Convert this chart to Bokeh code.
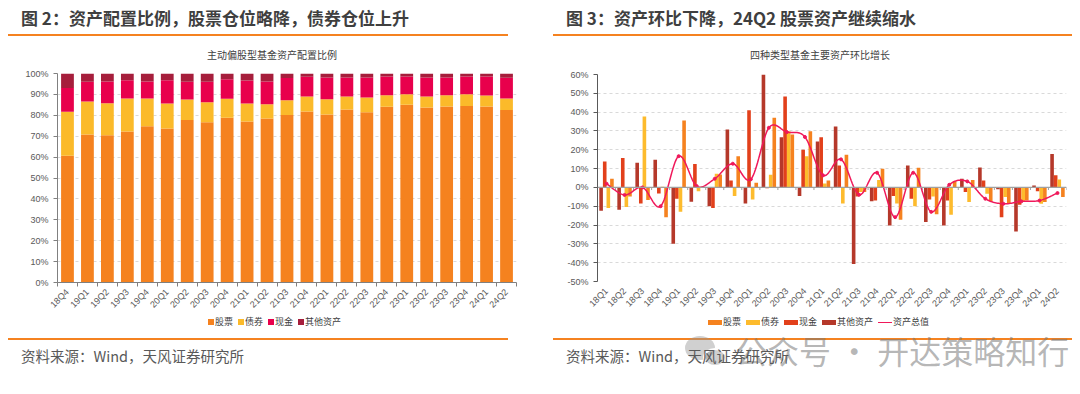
import numpy as np
from bokeh.plotting import figure
from bokeh.models import (ColumnDataSource, FixedTicker, Span, Div, Range1d, Spacer)
from bokeh.layouts import row, column
from bokeh.embed import file_html
from bokeh.resources import INLINE

CJK = "Noto Sans CJK SC"
LAT = "Liberation Sans"

# ---------------- Data: left chart (asset allocation, %) ----------------
alloc_quarters = ["18Q4", "19Q1", "19Q2", "19Q3", "19Q4", "20Q1", "20Q2", "20Q3", "20Q4",
                  "21Q1", "21Q2", "21Q3", "21Q4", "22Q1", "22Q2", "22Q3", "22Q4",
                  "23Q1", "23Q2", "23Q3", "23Q4", "24Q1", "24Q2"]
alloc_stock = [60.6, 70.8, 70.5, 72.2, 74.8, 73.7, 77.7, 76.7, 78.8, 77.0, 78.5, 80.1, 81.8,
               80.4, 82.8, 81.5, 84.1, 85.0, 83.7, 84.2, 84.5, 84.2, 82.5]
alloc_bond = [21.1, 15.8, 15.3, 15.8, 13.2, 11.9, 9.9, 9.6, 9.1, 8.6, 6.8, 7.1, 7.2,
              7.3, 6.2, 7.0, 5.5, 5.1, 5.3, 5.4, 5.6, 5.3, 5.5]
alloc_cash = [11.4, 9.4, 10.4, 8.8, 8.2, 11.2, 8.4, 9.7, 9.4, 11.1, 10.9, 10.6, 9.4,
              10.4, 9.1, 9.6, 9.0, 8.5, 9.1, 8.5, 8.5, 9.1, 10.0]
alloc_other = [6.9, 4.0, 3.8, 3.2, 3.8, 3.2, 4.0, 4.0, 2.7, 3.3, 3.8, 2.2, 1.6,
               1.9, 1.9, 1.9, 1.4, 1.4, 1.9, 1.9, 1.4, 1.4, 2.0]
alloc_names = ["股票", "债券", "现金", "其他资产"]
alloc_colors = ["#F5821F", "#FBBA2A", "#E8004C", "#A61E3C"]

# ---------------- Data: right chart (QoQ growth, %) ----------------
growth_quarters = ["18Q1", "18Q2", "18Q3", "18Q4", "19Q1", "19Q2", "19Q3", "19Q4",
                   "20Q1", "20Q2", "20Q3", "20Q4", "21Q1", "21Q2", "21Q3", "21Q4",
                   "22Q1", "22Q2", "22Q3", "22Q4", "23Q1", "23Q2", "23Q3", "23Q4",
                   "24Q1", "24Q2"]
g_stock = [4.6, -4.8, -6.7, -15.8, 35.6, 0.3, 6.8, 16.5, 2.5, 37.0, 28.1, 29.9, 3.7,
           17.3, -2.5, 9.9, -17.2, 10.4, -14.2, 3.4, 4.0, -7.4, -8.7, -6.9, -7.8, -5.1]
g_bond = [-11.0, -10.4, 37.7, 0.3, -13.0, -2.0, 7.3, -4.6, -6.4, 6.7, 29.9, 16.6, 2.1,
          -8.5, -2.5, 4.0, -8.5, -10.0, -4.8, -14.5, -7.8, -3.4, -5.1, -7.4, -8.7, 4.2]
g_cash = [13.8, 15.6, -8.5, -3.2, -6.0, 12.4, -11.0, 3.7, 41.0, -0.5, 48.3, 20.0, 26.7,
          11.7, -4.8, -6.9, -4.6, -6.0, -6.4, -6.9, -2.5, 3.7, -15.8, -9.2, -2.1, 6.4]
g_other = [-12.4, -11.9, 13.1, 14.7, -30.0, -7.6, -10.0, 30.8, -8.5, 60.0, 26.7, -4.6, 24.4,
           32.4, -40.7, -7.4, -20.2, 11.7, -18.4, -20.2, 4.6, 10.6, -1.0, -23.4, 1.0, 17.7]
g_total = [2.0, -4.0, 0.0, -10.0, 16.6, 0.7, 4.6, 12.6, 4.3, 31.7, 29.4, 26.8, 6.4,
           14.9, -3.9, 7.8, -15.8, 7.8, -13.0, 1.4, 3.2, -6.0, -8.7, -7.4, -7.0, -3.0]
growth_names = ["股票", "债券", "现金", "其他资产", "资产总值"]
growth_colors = ["#F5821F", "#FDBB2D", "#E2401B", "#B5382A", "#F0185A"]

ORANGE_LINE = "#F58220"
TXT = "#404040"
AX = "#595959"


def header(title, sub, sub_left, width):
    html = (
        f'<div style="position:relative;width:{width}px;height:58px;font-family:\'{CJK}\';">'
        f'<div style="position:absolute;left:13px;top:0px;line-height:20px;font-size:17px;'
        f'font-weight:bold;color:#3F3F3F;white-space:nowrap;">{title}</div>'
        f'<div style="position:absolute;left:0px;top:26px;width:{width}px;height:0px;'
        f'border-top:2px solid {ORANGE_LINE};"></div>'
        f'<div style="position:absolute;left:{sub_left}px;top:40px;line-height:14px;font-size:10px;'
        f'color:{TXT};white-space:nowrap;">{sub}</div>'
        f'</div>'
    )
    return Div(text=html, width=width, height=58, margin=0)


def legend_div(names, colors, kinds, left, width, gap, height, top):
    items = []
    for nm, c, k in zip(names, colors, kinds):
        if k == "sq":
            sw = f'<span style="display:inline-block;width:6px;height:6px;background:{c};margin-right:1px;"></span>'
        elif k == "bar":
            sw = f'<span style="display:inline-block;width:14px;height:5px;background:{c};margin-right:1px;"></span>'
        else:
            sw = f'<span style="display:inline-block;width:14px;height:0px;border-top:1.5px solid {c};margin-right:1px;"></span>'
        items.append(f'<span style="display:inline-flex;align-items:center;margin-right:{gap}px;">{sw}'
                     f'<span>{nm}</span></span>')
    html = (
        f'<div style="position:relative;width:{width}px;height:{height}px;font-family:\'{CJK}\';">'
        f'<div style="position:absolute;left:{left}px;top:{top}px;line-height:14px;font-size:9px;'
        f'color:{TXT};white-space:nowrap;display:flex;align-items:center;">{"".join(items)}</div>'
        f'</div>'
    )
    return Div(text=html, width=width, height=height, margin=0)


def footer(width, watermark=False):
    wm = ""
    if watermark:
        wm = (
            '<div style="position:absolute;left:132px;top:-2px;width:30px;height:24px;'
            'border-radius:50%;background:rgba(150,150,150,0.45);"></div>'
            '<div style="position:absolute;left:150px;top:10px;width:24px;height:19px;'
            'border-radius:50%;background:rgba(150,150,150,0.45);border:2px solid #fff;"></div>'
            f'<div style="position:absolute;left:182px;top:-1px;line-height:26px;font-size:32px;'
            f'color:rgba(120,120,120,0.55);white-space:nowrap;">公众号 · 开达策略知行</div>'
        )
    html = (
        f'<div style="position:relative;width:{width}px;height:40px;font-family:\'{CJK}\';">'
        f'<div style="position:absolute;left:0px;top:0px;width:{width}px;height:0px;'
        f'border-top:2px solid {ORANGE_LINE};"></div>'
        f'{wm}'
        f'<div style="position:absolute;left:13px;top:8px;line-height:20px;font-size:14.5px;'
        f'color:#595959;white-space:nowrap;">资料来源：Wind，天风证券研究所</div>'
        f'</div>'
    )
    return Div(text=html, width=width, height=40, margin=0)


def style_axes(p):
    for ax in (p.xaxis[0], p.yaxis[0]):
        ax.major_label_text_font = LAT
        ax.major_label_text_font_size = "9px"
        ax.major_label_text_color = AX
    p.outline_line_color = None
    p.xgrid.grid_line_color = None
    p.ygrid.grid_line_color = "#D9D9D9"
    p.ygrid.grid_line_dash = "3 3"


# ---------------- Left chart ----------------
nL = len(alloc_quarters)
xl = np.arange(nL)
srcL = ColumnDataSource(dict(x=xl, stock=alloc_stock, bond=alloc_bond,
                             cash=alloc_cash, other=alloc_other))
pL = figure(width=515, height=250, x_range=Range1d(-0.5, nL - 0.5), y_range=Range1d(0, 100),
            output_backend="svg", toolbar_location=None, margin=0,
            min_border_left=49, min_border_right=7, min_border_top=7, min_border_bottom=34)
pL.vbar_stack(["stock", "bond", "cash", "other"], x="x", width=0.64, color=alloc_colors,
              line_color=None, source=srcL)
style_axes(pL)
pL.yaxis[0].ticker = FixedTicker(ticks=list(range(0, 101, 10)))
pL.yaxis[0].major_label_overrides = {v: f"{v}%" for v in range(0, 101, 10)}
pL.yaxis[0].axis_line_color = "#808080"
pL.yaxis[0].major_tick_line_color = "#808080"
pL.yaxis[0].major_tick_out = 4
pL.yaxis[0].major_tick_in = 0
pL.yaxis[0].minor_tick_line_color = None
pL.xaxis[0].ticker = FixedTicker(ticks=list(range(nL)),
                                 minor_ticks=[i - 0.5 for i in range(nL + 1)])
pL.xaxis[0].major_label_overrides = {i: q for i, q in enumerate(alloc_quarters)}
pL.xaxis[0].major_label_orientation = np.pi / 4
pL.xaxis[0].major_tick_out = 0
pL.xaxis[0].major_tick_in = 0
pL.xaxis[0].minor_tick_out = 4
pL.xaxis[0].minor_tick_in = 0
pL.xaxis[0].minor_tick_line_color = "#808080"
pL.xaxis[0].axis_line_color = "#808080"
pL.xaxis[0].major_label_standoff = 4

# ---------------- Right chart ----------------
nR = len(growth_quarters)
xr = np.arange(nR)
bw = 0.2
srcR = ColumnDataSource(dict(x=xr, stock=g_stock, bond=g_bond, cash=g_cash,
                             other=g_other, total=g_total))
pR = figure(width=519, height=249, x_range=Range1d(-0.5, nR - 0.5), y_range=Range1d(-50, 60),
            output_backend="svg", toolbar_location=None, margin=0,
            min_border_left=44, min_border_right=6, min_border_top=8, min_border_bottom=34)
style_axes(pR)
pR.vbar(x=xr - 0.3, top=g_other, width=bw, color=growth_colors[3], line_color=None)
pR.vbar(x=xr - 0.1, top=g_cash, width=bw, color=growth_colors[2], line_color=None)
pR.vbar(x=xr + 0.1, top=g_bond, width=bw, color=growth_colors[1], line_color=None)
pR.vbar(x=xr + 0.3, top=g_stock, width=bw, color=growth_colors[0], line_color=None)
pR.add_layout(Span(location=0, dimension="width", line_color="#A0A0A0", line_width=1.2))
bounds = np.arange(nR + 1) - 0.5
pR.segment(x0=bounds, y0=np.zeros(nR + 1), x1=bounds, y1=np.full(nR + 1, -1.4),
           line_color="#A0A0A0", line_width=1)


def catmull_rom(xs, ys, n=16):
    P = np.column_stack([xs, ys]).astype(float)
    out = []
    for i in range(len(P) - 1):
        p0 = P[i - 1] if i > 0 else P[i]
        p1, p2 = P[i], P[i + 1]
        p3 = P[i + 2] if i + 2 < len(P) else P[i + 1]
        ts = np.linspace(0, 1, n, endpoint=(i == len(P) - 2))
        for t in ts:
            t2, t3 = t * t, t * t * t
            pt = 0.5 * ((2 * p1) + (-p0 + p2) * t + (2 * p0 - 5 * p1 + 4 * p2 - p3) * t2
                        + (-p0 + 3 * p1 - 3 * p2 + p3) * t3)
            out.append(pt)
    out = np.array(out)
    return out[:, 0], out[:, 1]


sx, sy = catmull_rom(xr, g_total)
pR.line(sx, sy, line_color=growth_colors[4], line_width=1.5)
pR.scatter(x="x", y="total", source=srcR, size=3, color=growth_colors[4])

pR.yaxis[0].ticker = FixedTicker(ticks=list(range(-50, 61, 10)))
pR.yaxis[0].major_label_overrides = {v: f"{v}%" for v in range(-50, 61, 10)}
pR.yaxis[0].axis_line_color = "#595959"
pR.yaxis[0].major_tick_line_color = "#595959"
pR.yaxis[0].major_tick_out = 4
pR.yaxis[0].major_tick_in = 0
pR.yaxis[0].minor_tick_line_color = None
pR.xaxis[0].ticker = FixedTicker(ticks=list(range(nR)))
pR.xaxis[0].major_label_overrides = {i: q for i, q in enumerate(growth_quarters)}
pR.xaxis[0].major_label_orientation = np.pi / 4
pR.xaxis[0].axis_line_color = None
pR.xaxis[0].major_tick_line_color = None
pR.xaxis[0].minor_tick_line_color = None
pR.xaxis[0].major_label_standoff = 2

# ---------------- Layout ----------------
legL = legend_div(alloc_names, alloc_colors, ["sq"] * 4, 200, 515, 5, 22, -1)
legR = legend_div(growth_names, growth_colors, ["bar"] * 4 + ["line"], 155, 519, 5, 23, 0)
left = column(header("图 2：资产配置比例，股票仓位略降，债券仓位上升", "主动偏股型基金资产配置比例", 199, 500),
              pL, legL, footer(500), spacing=0, margin=0)
right = column(header("图 3：资产环比下降，24Q2 股票资产继续缩水", "四种类型基金主要资产环比增长", 197, 519),
               pR, legR, footer(519, watermark=True), spacing=0, margin=0)
layout = row(left, Spacer(width=30, margin=0), right, spacing=0, margin=(8, 0, 0, 8))

open("out.html", "w").write(file_html(layout, INLINE))
